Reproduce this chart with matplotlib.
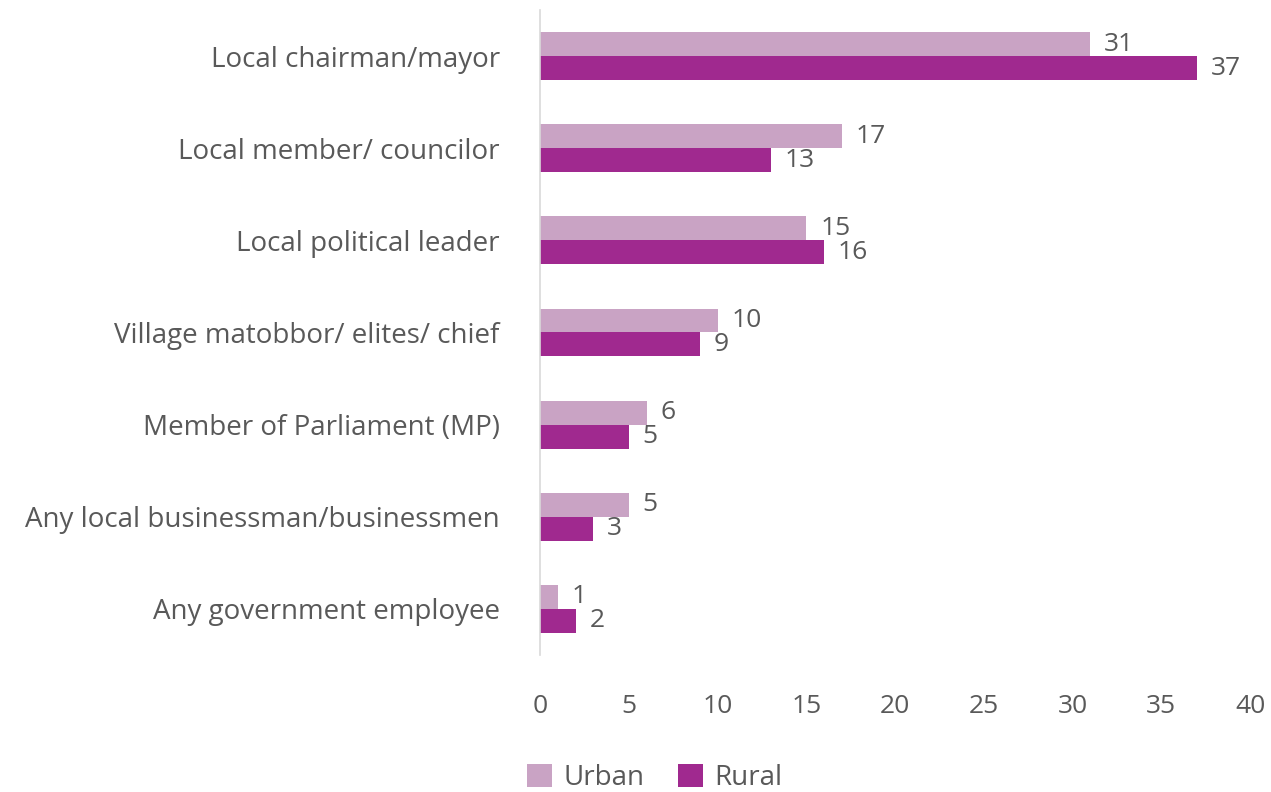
import matplotlib
matplotlib.use("Agg")
import matplotlib.pyplot as plt
import numpy as np

categories = [
    "Local chairman/mayor",
    "Local member/ councilor",
    "Local political leader",
    "Village matobbor/ elites/ chief",
    "Member of Parliament (MP)",
    "Any local businessman/businessmen",
    "Any government employee",
]
urban = [31, 17, 15, 10, 6, 5, 1]
rural = [37, 13, 16, 9, 5, 3, 2]

URBAN_COLOR = "#C9A3C4"
RURAL_COLOR = "#A0298F"
TEXT_COLOR = "#595959"

plt.rcParams["font.family"] = ["Open Sans", "DejaVu Sans"]

fig = plt.figure(figsize=(12.71, 7.92), dpi=100)
ax = fig.add_axes([0.4249, 0.173, 0.5586, 0.8144])

y = np.arange(len(categories))
h = 0.26

bars_u = ax.barh(y - h / 2, urban, height=h, color=URBAN_COLOR, label="Urban")
bars_r = ax.barh(y + h / 2, rural, height=h, color=RURAL_COLOR, label="Rural")

for bars in (bars_u, bars_r):
    for bar in bars:
        w = bar.get_width()
        ax.annotate(str(int(w)), xy=(w, bar.get_y() + bar.get_height() / 2),
                    xytext=(10, 0), textcoords="offset points",
                    ha="left", va="center", fontsize=19, color=TEXT_COLOR)

ax.set_ylim(len(categories) - 0.5, -0.5)
ax.set_xlim(0, 40)
ax.set_xticks(range(0, 41, 5))
ax.set_yticks(y)
ax.set_yticklabels(categories, fontsize=20)
ax.tick_params(axis="both", length=0, labelcolor=TEXT_COLOR)
ax.tick_params(axis="x", pad=28, labelsize=19)
ax.tick_params(axis="y", pad=29)

for side in ("top", "right", "bottom"):
    ax.spines[side].set_visible(False)
ax.spines["left"].set_color("#D9D9D9")
ax.spines["left"].set_linewidth(1.2)

leg = fig.legend(loc="center", bbox_to_anchor=(0.515, 0.018), ncol=2, frameon=False,
                 fontsize=20, handlelength=0.9, handleheight=0.9,
                 handletextpad=0.4, columnspacing=1.2)
for t in leg.get_texts():
    t.set_color(TEXT_COLOR)

fig.savefig("out.png", dpi=100)
